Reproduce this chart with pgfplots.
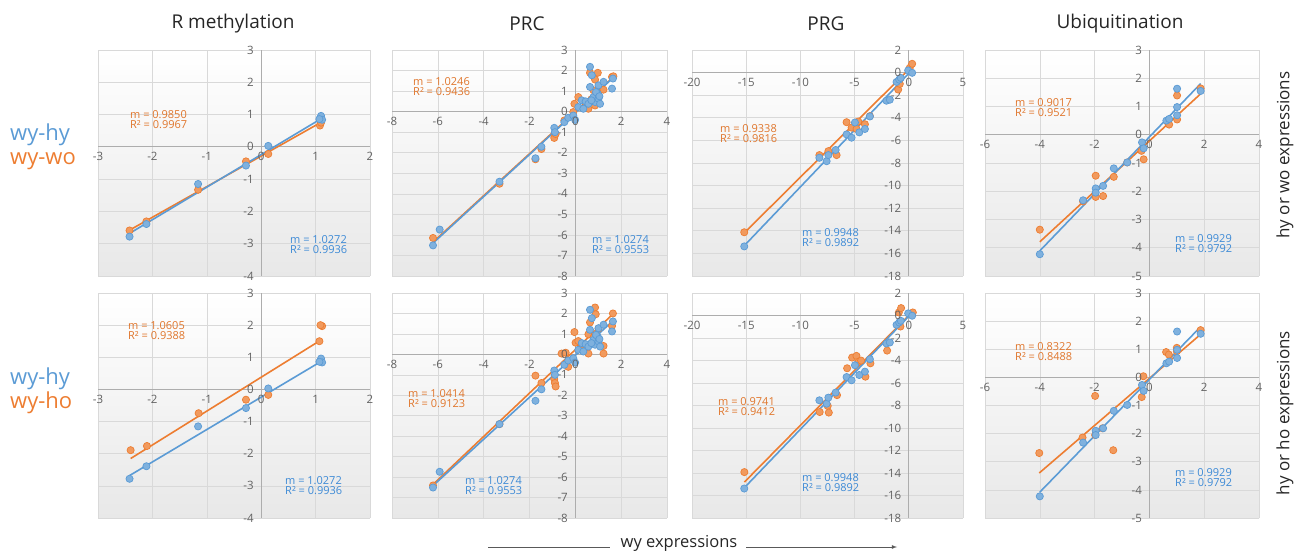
\documentclass[border=0pt]{standalone}
\usepackage{fontspec}
\setmainfont{Open Sans}
\usepackage{pgfplots}
\usepackage{pgfplotstable}
\pgfplotsset{compat=1.18}

\definecolor{xlblue}{HTML}{5B9BD5}
\definecolor{xlorange}{HTML}{ED7D31}
\definecolor{txblue}{HTML}{3D8AD6}
\definecolor{txorange}{HTML}{E0762C}
\definecolor{ticktxt}{HTML}{626262}

% blue series (wy-hy) is the same in both rows
\pgfplotstableread{
x y
-2.42 -2.78
-2.11 -2.39
-1.16 -1.15
-0.28 -0.58
0.13 0.03
1.10 0.96
1.12 0.84
1.07 0.86
}\rmblue
\pgfplotstableread{
x y
-6.21 -6.51
-5.92 -5.74
-3.31 -3.41
-1.74 -2.27
-1.48 -1.71
-0.92 -0.79
-0.89 -1.00
-0.48 -0.51
-0.31 -0.30
-0.09 -0.19
-0.01 -0.40
0.13 0.22
0.28 0.55
0.35 0.14
0.45 0.50
0.57 0.38
0.64 2.18
0.72 1.77
0.64 1.20
0.79 0.71
0.86 0.47
1.01 0.63
0.98 0.87
1.01 1.28
1.23 1.45
1.60 1.12
1.64 1.61
1.08 0.38
0.70 0.55
0.90 0.95
1.05 0.75
}\prcblue
\pgfplotstableread{
x y
-15.18 -15.38
-8.25 -7.54
-7.58 -7.84
-7.42 -7.30
-6.75 -6.85
-5.74 -5.47
-5.28 -5.76
-4.97 -4.42
-4.57 -5.29
-4.05 -4.99
-3.59 -3.88
-2.06 -2.49
-1.75 -2.40
-1.13 -0.83
-0.89 -0.62
-0.74 -0.47
-0.06 0.19
0.31 -0.02
}\prgblue
\pgfplotstableread{
x y
-4.00 -4.23
-2.42 -2.32
-1.96 -1.90
-1.96 -2.05
-1.69 -1.81
-1.30 -1.19
-0.81 -0.98
-0.27 -0.27
-0.21 -0.48
0.62 0.50
0.72 0.56
1.01 1.63
1.01 0.98
1.01 0.69
1.87 1.55
}\ubblue

\tikzset{
  tl/.style={font=\fontsize{11.5}{11.5}\selectfont, text=ticktxt},
  lbl/.style={anchor=west, align=left, font=\fontsize{11}{10}\selectfont, inner sep=0pt},
}
\pgfplotsset{
  panel/.style={
    scale only axis, anchor=south west, clip=false,
    axis lines=middle, axis line style={-, draw=black!32, line width=0.8pt},
    grid=major, major grid style={draw=black!15, line width=0.6pt},
    major tick length=0pt,
    ticklabel style={tl},
    xticklabel style={yshift=-2pt}, yticklabel style={xshift=-4pt},
    /pgf/number format/assume math mode=true,
    axis background/.style={shade, top color=white, middle color=white, bottom color=black!9},
    % zero labels, which axis lines=middle leaves out
    after end axis/.code={
      \node[tl, anchor=north, yshift=-2pt] at (axis cs:0,0) {0};
      \node[tl, anchor=east, xshift=-4pt] at (axis cs:0,0) {0};
    },
  },
  omk/.style={only marks, mark=*, mark size=3.6pt,
    mark options={draw=xlorange, fill=xlorange!78!white, line width=0.7pt}},
  bmk/.style={only marks, mark=*, mark size=3.6pt,
    mark options={draw=xlblue, fill=xlblue!78!white, line width=0.7pt}},
  oln/.style={no marks, draw=xlorange, line width=1.6pt},
  bln/.style={no marks, draw=xlblue, line width=1.6pt},
  rmax/.style={xmin=-3, xmax=2, ymin=-4, ymax=3, xtick={-3,...,2}, ytick={-4,...,3}},
  prcax/.style={xmin=-8, xmax=4, ymin=-8, ymax=3, xtick={-8,-6,...,4}, ytick={-8,...,3}},
  prgax/.style={xmin=-20, xmax=5, ymin=-18, ymax=2, xtick={-20,-15,...,5}, ytick={-18,-16,...,2}},
  ubax/.style={xmin=-6, xmax=4, ymin=-5, ymax=3, xtick={-6,-4,...,4}, ytick={-5,...,3}},
}

\begin{document}
\begin{tikzpicture}
\useasboundingbox (0pt,0pt) rectangle (1294pt,552pt);

% ---------- row 1 ----------
\begin{axis}[panel, rmax, at={(98pt,276pt)}, width=272pt, height=226pt]
\addplot[omk] coordinates {(-2.42,-2.59) (-2.11,-2.31) (-1.16,-1.33) (-0.28,-0.45) (0.13,-0.22) (1.08,0.66) (1.10,0.75)};
\addplot[bmk] table[x=x,y=y] {\rmblue};
\addplot[oln] coordinates {(-2.42,-2.58) (1.10,0.76)};
\addplot[bln] coordinates {(-2.42,-2.68) (1.12,0.89)};
\end{axis}

\begin{axis}[panel, prcax, at={(392pt,276pt)}, width=275pt, height=226pt]
\addplot[omk] coordinates {(-6.21,-6.15) (-3.31,-3.51) (-1.74,-2.32) (-1.48,-1.82) (-0.92,-1.28) (-0.86,-1.09) (-0.48,-0.43) (-0.09,-0.02) (-0.04,0.38) (0.13,0.71) (0.42,0.22) (0.57,0.14) (0.64,1.89) (0.98,1.89) (0.86,1.56) (0.79,1.04) (0.86,0.30) (1.01,0.47) (1.23,1.07) (1.60,1.69) (0.70,0.60) (1.66,1.72)};
\addplot[bmk] table[x=x,y=y] {\prcblue};
\addplot[oln] coordinates {(-6.21,-6.35) (1.65,1.68)};
\addplot[bln] coordinates {(-6.21,-6.40) (1.64,1.64)};
\end{axis}

\begin{axis}[panel, prgax, at={(692pt,276pt)}, width=271pt, height=226pt]
\addplot[omk] coordinates {(-15.18,-14.13) (-8.25,-7.30) (-7.42,-6.95) (-6.66,-7.30) (-5.74,-4.39) (-5.28,-4.87) (-4.82,-4.99) (-4.66,-4.33) (-4.05,-4.57) (-3.59,-3.85) (-0.98,-1.50) (-0.83,-1.00) (0.09,0.42) (0.31,0.78)};
\addplot[bmk] table[x=x,y=y] {\prgblue};
\addplot[oln] coordinates {(-15.18,-14.19) (0.31,0.57)};
\addplot[bln] coordinates {(-15.18,-15.32) (0.31,0.25)};
\end{axis}

\begin{axis}[panel, ubax, at={(985pt,276pt)}, width=274pt, height=226pt]
\addplot[omk] coordinates {(-4.00,-3.36) (-2.42,-2.36) (-1.96,-1.45) (-1.96,-2.20) (-1.69,-2.17) (-1.30,-1.49) (-0.81,-0.98) (-0.29,-0.57) (-0.21,-0.87) (0.68,0.42) (0.72,0.36) (1.01,1.39) (1.01,0.54) (1.87,1.64)};
\addplot[bmk] table[x=x,y=y] {\ubblue};
\addplot[oln] coordinates {(-4.00,-3.79) (1.87,1.45)};
\addplot[bln] coordinates {(-4.00,-4.11) (1.87,1.81)};
\end{axis}

% ---------- row 2 ----------
\begin{axis}[panel, rmax, at={(98pt,34pt)}, width=272pt, height=225pt]
\addplot[omk] coordinates {(-2.40,-1.89) (-2.10,-1.76) (-1.15,-0.74) (-0.28,-0.32) (0.13,-0.17) (1.07,1.50) (1.12,1.97) (1.09,2.00)};
\addplot[bmk] table[x=x,y=y] {\rmblue};
\addplot[oln] coordinates {(-2.40,-2.15) (1.12,1.56)};
\addplot[bln] coordinates {(-2.42,-2.68) (1.12,0.89)};
\end{axis}

\begin{axis}[panel, prcax, at={(392pt,34pt)}, width=275pt, height=225pt]
\addplot[omk] coordinates {(-6.21,-6.41) (-3.31,-3.41) (-1.74,-1.04) (-1.48,-1.40) (-0.92,-1.21) (-0.89,-1.40) (-0.86,-1.57) (-0.60,0.04) (-0.42,0.08) (-0.31,-0.61) (-0.04,1.09) (0.01,0.57) (0.13,0.65) (0.28,0.48) (0.57,0.98) (0.57,0.04) (0.64,1.56) (0.86,2.29) (0.89,1.96) (0.86,0.98) (1.01,1.26) (1.23,0.41) (1.23,0.04) (1.60,1.39) (1.64,2.00) (0.79,0.81)};
\addplot[bmk] table[x=x,y=y] {\prcblue};
\addplot[oln] coordinates {(-6.21,-6.36) (1.64,1.97)};
\addplot[bln] coordinates {(-6.21,-6.42) (1.64,1.64)};
\end{axis}

\begin{axis}[panel, prgax, at={(692pt,34pt)}, width=271pt, height=225pt]
\addplot[omk] coordinates {(-15.17,-13.92) (-8.22,-8.58) (-7.48,-8.04) (-7.38,-8.63) (-6.62,-7.08) (-5.69,-4.69) (-5.23,-3.74) (-4.83,-3.59) (-4.62,-4.10) (-4.40,-4.01) (-4.00,-5.44) (-3.54,-4.25) (-2.00,-3.12) (-0.92,0.27) (-0.71,0.66) (-0.77,-0.98) (0.37,0.27)};
\addplot[bmk] table[x=x,y=y] {\prgblue};
\addplot[oln] coordinates {(-15.17,-14.81) (0.37,0.36)};
\addplot[bln] coordinates {(-15.18,-15.32) (0.31,0.25)};
\end{axis}

\begin{axis}[panel, ubax, at={(985pt,34pt)}, width=274pt, height=225pt]
\addplot[omk] coordinates {(-4.02,-2.69) (-2.44,-2.14) (-1.98,-0.66) (-1.98,-2.05) (-1.71,-1.81) (-1.32,-2.59) (-0.28,-0.70) (-0.22,0.04) (0.61,0.90) (0.71,0.81) (1.00,1.05) (1.00,0.93) (1.87,1.68)};
\addplot[bmk] table[x=x,y=y] {\ubblue};
\addplot[oln] coordinates {(-4.02,-3.40) (1.87,1.53)};
\addplot[bln] coordinates {(-4.00,-4.08) (1.87,1.80)};
\end{axis}

% ---------- slope / R2 labels ----------
\node[lbl, text=txorange] at (130pt,432pt) {m = 0.9850\\R² = 0.9967};
\node[lbl, text=txblue]   at (290pt,307pt) {m = 1.0272\\R² = 0.9936};
\node[lbl, text=txorange] at (413pt,465pt) {m = 1.0246\\R² = 0.9436};
\node[lbl, text=txblue]   at (592pt,307pt) {m = 1.0274\\R² = 0.9553};
\node[lbl, text=txorange] at (720pt,418pt) {m = 0.9338\\R² = 0.9816};
\node[lbl, text=txblue]   at (802pt,314pt) {m = 0.9948\\R² = 0.9892};
\node[lbl, text=txorange] at (1015pt,444pt) {m = 0.9017\\R² = 0.9521};
\node[lbl, text=txblue]   at (1175pt,308pt) {m = 0.9929\\R² = 0.9792};

\node[lbl, text=txorange] at (128pt,221pt) {m = 1.0605\\R² = 0.9388};
\node[lbl, text=txblue]   at (285pt,66pt) {m = 1.0272\\R² = 0.9936};
\node[lbl, text=txorange] at (408pt,153pt) {m = 1.0414\\R² = 0.9123};
\node[lbl, text=txblue]   at (465pt,66pt) {m = 1.0274\\R² = 0.9553};
\node[lbl, text=txorange] at (718pt,145pt) {m = 0.9741\\R² = 0.9412};
\node[lbl, text=txblue]   at (802pt,69pt) {m = 0.9948\\R² = 0.9892};
\node[lbl, text=txorange] at (1015pt,200pt) {m = 0.8322\\R² = 0.8488};
\node[lbl, text=txblue]   at (1175pt,74pt) {m = 0.9929\\R² = 0.9792};

% ---------- titles and side labels ----------
\begin{scope}[every node/.style={font=\fontsize{19}{19}\selectfont, text=black!85}]
\node at (233pt,528pt) {R methylation};
\node at (527pt,528pt) {PRC};
\node at (826pt,528pt) {PRG};
\node at (1120pt,528pt) {Ubiquitination};
\end{scope}

\begin{scope}[every node/.style={font=\fontsize{22}{22}\selectfont, anchor=base west, inner sep=0pt}]
\node[text=xlblue]   at (10pt,411pt) {wy-hy};
\node[text=xlorange] at (10pt,387pt) {wy-wo};
\node[text=xlblue]   at (10pt,167pt) {wy-hy};
\node[text=xlorange] at (10pt,143pt) {wy-ho};
\end{scope}

\begin{scope}[every node/.style={font=\fontsize{17}{17}\selectfont, text=black!85, rotate=90}]
\node at (1285pt,397pt) {hy or wo expressions};
\node at (1285pt,139pt) {hy or ho expressions};
\end{scope}

\node[font=\fontsize{16.5}{16.5}\selectfont, text=black!85] at (679pt,9pt) {wy expressions};
\draw[black!65, line width=0.8pt] (488pt,5pt) -- (610pt,5pt);
\draw[black!65, line width=0.8pt, -latex] (746pt,5pt) -- (897pt,5pt);
\end{tikzpicture}
\end{document}
